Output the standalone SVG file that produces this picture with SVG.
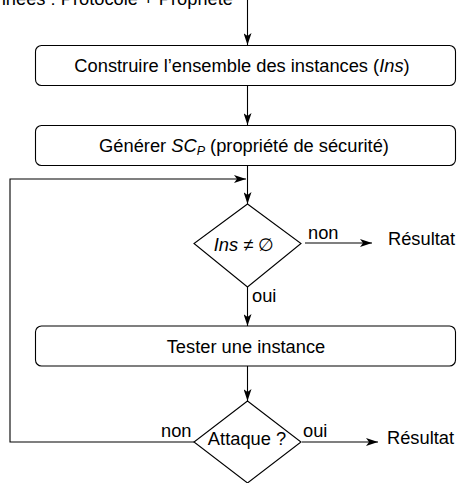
<svg xmlns="http://www.w3.org/2000/svg" width="458" height="483" viewBox="0 0 458 483">
<defs>
<style>
text{font-family:"Liberation Sans",Arial,sans-serif;font-size:18.3px;fill:#000}
.c{text-anchor:middle}
.box{fill:#fff;stroke:#000;stroke-width:1.1}
.ln{fill:none;stroke:#000;stroke-width:1.1}
</style>
<marker id="ah" viewBox="0 0 12 8" refX="12" refY="4" markerWidth="12" markerHeight="8" markerUnits="userSpaceOnUse" orient="auto">
<path d="M0,0 L12,4 L0,8 L3,4 z" fill="#000"/>
</marker>
</defs>
<g id="connectors">
<line class="ln" x1="247.5" y1="0" x2="247.5" y2="45" marker-end="url(#ah)"/>
<line class="ln" x1="247.5" y1="85" x2="247.5" y2="125" marker-end="url(#ah)"/>
<line class="ln" x1="247.5" y1="165" x2="247.5" y2="204" marker-end="url(#ah)"/>
<line class="ln" x1="305" y1="243" x2="372" y2="243" marker-end="url(#ah)"/>
<line class="ln" x1="247.5" y1="287" x2="247.5" y2="326" marker-end="url(#ah)"/>
<line class="ln" x1="247.5" y1="366" x2="247.5" y2="401" marker-end="url(#ah)"/>
<line class="ln" x1="302" y1="442" x2="378" y2="442" marker-end="url(#ah)"/>
<path class="ln" d="M195,442 H10 V179 H246" marker-end="url(#ah)"/>
<text x="308" y="239">non</text>
<text x="252" y="302">oui</text>
<text x="161" y="437">non</text>
<text x="303" y="437">oui</text>
</g>
<g id="input">
<text x="233" y="5" text-anchor="end">Données : Protocole + Propriété</text>
</g>
<g id="n1">
<rect class="box" x="35.5" y="45.5" width="420" height="40" rx="6"/>
<text class="c" x="242" y="72">Construire l’ensemble des instances (<tspan font-style="italic">Ins</tspan>)</text>
</g>
<g id="n2">
<rect class="box" x="35.5" y="125.5" width="420" height="40" rx="6"/>
<text class="c" x="244" y="152">Générer <tspan font-style="italic">SC<tspan font-size="12.5" dy="3">P</tspan></tspan><tspan dy="-3"> (propriété de sécurité)</tspan></text>
</g>
<g id="d1">
<polygon class="box" points="247.5,204 301,243.5 247.5,287 194,243.5"/>
<text class="c" x="244" y="251"><tspan font-style="italic">Ins</tspan> ≠ ∅</text>
</g>
<g id="r1">
<text x="388" y="245">Résultat</text>
</g>
<g id="n3">
<rect class="box" x="35.5" y="326" width="420" height="40" rx="6"/>
<text class="c" x="246" y="352.5">Tester une instance</text>
</g>
<g id="d2">
<polygon class="box" points="247.5,401 301,442 247.5,483 194,442"/>
<text class="c" x="247" y="445">Attaque ?</text>
</g>
<g id="r2">
<text x="387" y="444">Résultat</text>
</g>
</svg>
